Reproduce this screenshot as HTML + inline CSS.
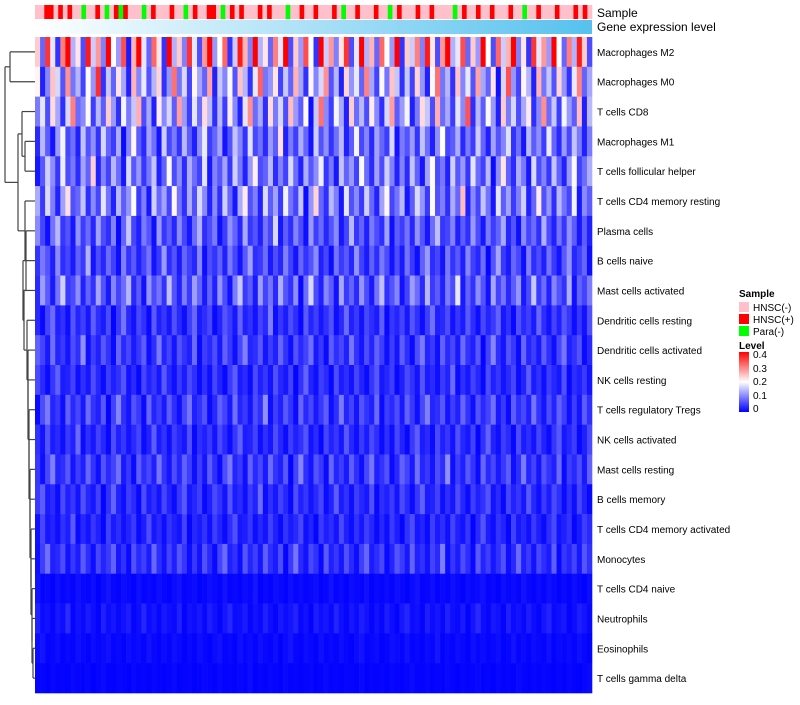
<!DOCTYPE html>
<html><head><meta charset="utf-8"><style>
body{margin:0;background:#fff;font-family:"Liberation Sans",sans-serif}
svg text{font-family:"Liberation Sans",sans-serif}
</style></head><body>
<svg id="chart" width="800" height="700" xmlns="http://www.w3.org/2000/svg">
<rect width="800" height="700" fill="#fff"/>
<defs>
<linearGradient id="geneGrad" gradientUnits="userSpaceOnUse" x1="35" y1="0" x2="592" y2="0"><stop offset="0" stop-color="#ffffff"/><stop offset="1" stop-color="#56c1ef"/></linearGradient>
<linearGradient id="levelGrad" x1="0" x2="0" y1="1" y2="0"><stop offset="0" stop-color="#0000ff"/><stop offset="0.5" stop-color="#ffffff"/><stop offset="1" stop-color="#ff0000"/></linearGradient>
</defs>
<g id="sampleBar"></g>
<rect x="35" y="20" width="557" height="14" fill="url(#geneGrad)"/>
<text x="597" y="17" font-size="12">Sample</text>
<text x="597" y="31" font-size="12">Gene expression level</text>
<g id="cells"></g>
<g id="labels"></g>
<g id="dendro" stroke="#444" stroke-width="1.2" fill="none"></g>
<g font-size="10">
<text x="739" y="297" font-weight="bold">Sample</text>
<rect x="739" y="302" width="10" height="10" fill="#ffc0cb"/>
<text x="753" y="311">HNSC(-)</text>
<rect x="739" y="314" width="10" height="10" fill="#ff0000"/>
<text x="753" y="323">HNSC(+)</text>
<rect x="739" y="326" width="10" height="10" fill="#00ff00"/>
<text x="753" y="335">Para(-)</text>
<text x="739" y="349" font-weight="bold">Level</text>
<rect x="739" y="352" width="10" height="60" fill="url(#levelGrad)"/>
<text x="753" y="358">0.4</text><text x="753" y="372">0.3</text><text x="753" y="385">0.2</text><text x="753" y="399">0.1</text><text x="753" y="412">0</text>
</g>
</svg>
<script>
const rowNames=["Macrophages M2","Macrophages M0","T cells CD8","Macrophages M1","T cells follicular helper","T cells CD4 memory resting","Plasma cells","B cells naive","Mast cells activated","Dendritic cells resting","Dendritic cells activated","NK cells resting","T cells regulatory  Tregs","NK cells activated","Mast cells resting","B cells memory","T cells CD4 memory activated","Monocytes","T cells CD4 naive","Neutrophils","Eosinophils","T cells gamma delta"];
const rowMeans=[0.2,0.13,0.12,0.08,0.085,0.09,0.06,0.05,0.065,0.035,0.04,0.03,0.04,0.03,0.04,0.03,0.025,0.035,0.006,0.012,0.006,0.003];
const colFactors=[1.2,0.4,1.8,0.9,0.2,1.5,2.4,0.7,1.1,0.3,1.9,0.8,1.4,0.5,2.1,1.0,0.6,1.7,0.1,1.3,2.6,0.9,0.4,1.6,1.1,0.2,2.0,0.7,1.2,0.5,1.8,0.9,0.3,1.4,2.3,0.6,1.0,1.6,0.2,0.8,1.9,1.3,0.5,2.2,0.7,1.1,0.4,1.5,0.9,2.8,0.3,1.2,0.6,1.7,1.0,0.2,2.0,0.8,1.4,0.5,1.1,1.8,0.3,0.9,2.4,0.7,1.3,0.4,1.6,1.0,0.6,2.1,0.2,1.2,0.8,1.5,0.5,1.9,1.1,0.3,1.4,2.5,0.7,0.9,1.7,0.4,1.2,0.6,2.0,1.0,0.3,1.6,0.8,1.3,2.2,0.5,1.1,0.2,1.8,0.9,1.4,0.6,2.3,1.0,0.4,1.5,0.7,1.9,1.2,0.3];
const sampleCats=[0,0,1,1,0,1,0,1,0,0,2,0,0,1,0,2,0,1,2,1,0,0,0,2,0,1,0,0,0,1,0,0,2,0,1,0,0,1,1,0,2,0,1,0,1,0,0,0,1,0,1,0,0,0,2,0,0,1,0,0,1,0,0,0,1,0,2,0,0,1,0,0,0,1,0,0,2,0,1,0,0,0,1,0,0,1,0,0,0,0,2,0,1,0,0,1,0,0,1,0,0,0,1,0,0,2,0,0,1,0,0,0,1,0,0,0,1,0,1,0];
const sampleColors=["#ffc0cb","#ff0000","#00ff00"];
const X0=35,X1=592,Y0=37,Y1=693;
const nCol=colFactors.length,rowH=(Y1-Y0)/rowNames.length,colW=(X1-X0)/nCol;
const sampleW=(X1-X0)/sampleCats.length;
const xPos=j=>X0+j*colW, yPos=i=>Y0+i*rowH, sxPos=j=>X0+j*sampleW;
function color(v){v=Math.max(0,Math.min(0.4,v));let t=v/0.2;
 if(t<=1){const c=Math.round(255*t);return `rgb(${c},${c},255)`;}
 const c=Math.round(255*(2-t));return `rgb(255,${c},${c})`;}
const NS="http://www.w3.org/2000/svg";
const sb=document.getElementById('sampleBar');
sampleCats.forEach((c,j)=>{const r=document.createElementNS(NS,'rect');
 r.setAttribute('x',sxPos(j));r.setAttribute('y',5);r.setAttribute('width',sampleW+0.3);r.setAttribute('height',14);r.setAttribute('fill',sampleColors[c]);
 
 
 sb.appendChild(r);});
const cells=document.getElementById('cells'),labels=document.getElementById('labels');
rowNames.forEach((n,i)=>{
 for(let j=0;j<nCol;j++){const f=colFactors[(j+37*i)%nCol];const r=document.createElementNS(NS,'rect');
  r.setAttribute('x',xPos(j));r.setAttribute('y',yPos(i));r.setAttribute('width',colW+0.3);r.setAttribute('height',rowH+0.3);r.setAttribute('fill',color(rowMeans[i]*f));
  
  
  cells.appendChild(r);}
 const t=document.createElementNS(NS,'text');t.setAttribute('x',597);t.setAttribute('y',yPos(i)+rowH/2+4);t.setAttribute('font-size','10');t.textContent=n;
 
 
 labels.appendChild(t);});
const d=document.getElementById('dendro');
const yc=i=>yPos(i)+rowH/2;
function seg(x1,y1,x2,y2){const l=document.createElementNS(NS,'line');l.setAttribute('x1',x1);l.setAttribute('y1',y1);l.setAttribute('x2',x2);l.setAttribute('y2',y2);d.appendChild(l);}
seg(X0,yc(0),10,yc(0));seg(X0,yc(1),10,yc(1));seg(10,yc(0),10,yc(1));
const topY=(yc(0)+yc(1))/2;
seg(X0,yc(3),25,yc(3));seg(X0,yc(4),25,yc(4));seg(25,yc(3),25,yc(4));
let a=(yc(3)+yc(4))/2;
seg(X0,yc(2),22,yc(2));seg(22,yc(2),22,a);seg(22,a,25,a);
let cl=(yc(2)+a)/2;
const joinX=[25,26,23,24,27,28,28,29,29,30,30,31,31,32,32,33,33];
let prevY=yc(21),prevX=X0;
for(let i=20;i>=5;i--){const x=joinX[i-5];seg(X0,yc(i),x,yc(i));seg(prevX,prevY,x,prevY);seg(x,yc(i),x,prevY);prevY=(yc(i)+prevY)/2;prevX=x;}
const lowY=prevY;
seg(prevX,lowY,18,lowY);seg(18,cl,22,cl);seg(18,cl,18,lowY);
const midY=(cl+lowY)/2;
seg(5,topY,10,topY);seg(5,midY,18,midY);seg(5,topY,5,midY);
</script>
</body></html>
